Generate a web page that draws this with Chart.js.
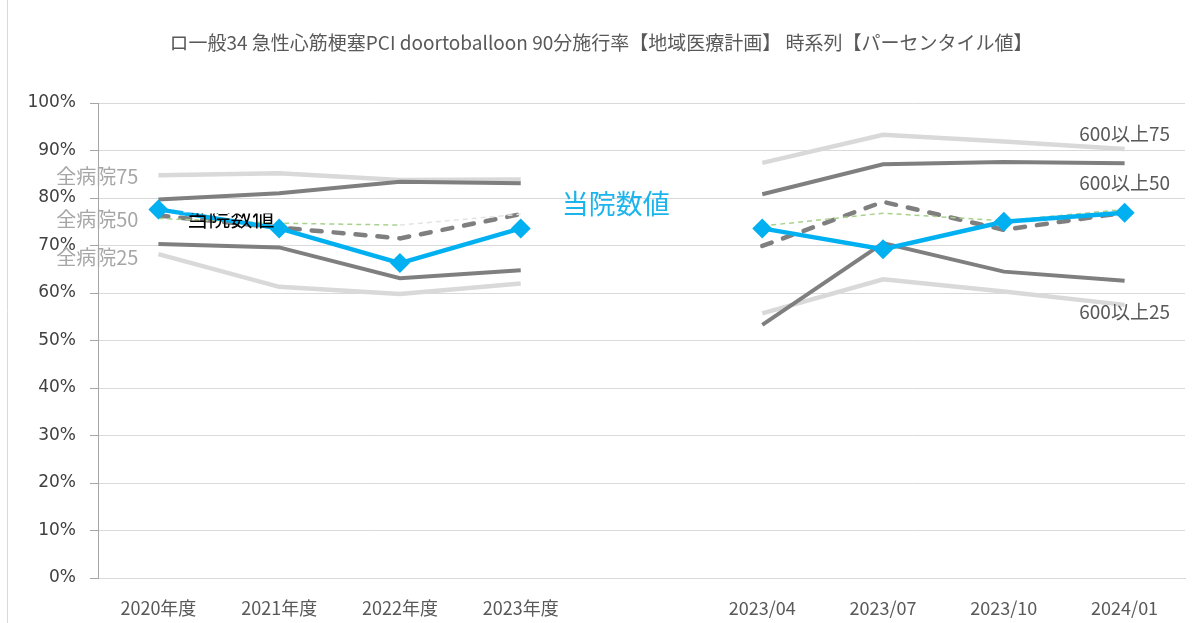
<!DOCTYPE html>
<html>
<head>
<meta charset="utf-8">
<script src="https://cdn.jsdelivr.net/npm/chart.js@4/dist/chart.umd.min.js"></script>
<style>
  body { margin: 0; background: #fff; }
  #wrap { width: 1198px; height: 623px; position: relative; }
</style>
</head>
<body>
<div id="wrap"><canvas id="chart" width="1198" height="623"></canvas></div>
<script>
// categories (one empty slot between fiscal years and quarters)
const categories = ['2020年度', '2021年度', '2022年度', '2023年度', '', '2023/04', '2023/07', '2023/10', '2024/01'];
const yTicks = [0, 10, 20, 30, 40, 50, 60, 70, 80, 90, 100];

// values in %
const zen25 = [68.2, 61.3, 59.8, 62.0, null, 55.7, 62.9, 60.3, 57.5];
const zen50 = [75.7, 74.7, 74.3, 76.6, null, 74.1, 76.8, 75.2, 77.6];
const zen75 = [84.8, 85.2, 83.8, 83.9, null, 87.4, 93.3, 91.9, 90.3];
const over25 = [70.3, 69.6, 63.1, 64.8, null, 53.3, 70.5, 64.5, 62.6];
const over50 = [76.3, 73.8, 71.5, 76.6, null, 69.9, 79.2, 73.3, 76.9];
const over75 = [79.7, 81.0, 83.4, 83.1, null, 80.8, 87.1, 87.6, 87.3];
const touin = [77.6, 73.6, 66.3, 73.6, null, 73.6, 69.2, 75.0, 76.9];

const title = 'ロ一般34 急性心筋梗塞PCI doortoballoon 90分施行率【地域医療計画】 時系列【パーセンタイル値】';
const JP = '"Noto Sans CJK JP", "Noto Sans", sans-serif';

const LIGHT = '#d9d9d9', DARK = '#7f7f7f', BLUE = '#00b0f0';

// text labels anchored to data points: [dataset, point, text, dx, dy, align, color, size]
const pointLabels = [
  [4, 0, '全病院75', -20, 1, 'right', '#a6a6a6', 20],
  [5, 0, '全病院50', -20, 1, 'right', '#a6a6a6', 20],
  [6, 0, '全病院25', -20, 3, 'right', '#a6a6a6', 20],
  [1, 8, '600以上75', 0, -30, 'center', '#595959', 19],
  [2, 8, '600以上50', 0, -30, 'center', '#595959', 19],
  [3, 8, '600以上25', 0, 31, 'center', '#595959', 19],
  [0, 3, '当院数値', 95, -25, 'center', '#1cb4ec', 27]
];

const labelPlugin = {
  id: 'labels',
  afterDatasetsDraw(chart) {
    const ctx = chart.ctx;
    ctx.save();
    // title
    ctx.font = '19px ' + JP;
    ctx.fillStyle = '#595959';
    ctx.textAlign = 'center';
    ctx.textBaseline = 'middle';
    ctx.fillText(title, 601, 43);

    // half-hidden black label of the first point
    const p0 = chart.getDatasetMeta(0).data[0];
    ctx.fillStyle = '#fff';
    ctx.fillRect(p0.x + 25, p0.y - 9, 104, 12);
    ctx.save();
    ctx.beginPath();
    ctx.rect(p0.x + 25, p0.y + 4, 110, 20);
    ctx.clip();
    ctx.font = '22px ' + JP;
    ctx.fillStyle = '#000';
    ctx.fillText('当院数値', p0.x + 72, p0.y + 8);
    ctx.restore();

    pointLabels.forEach(([ds, i, text, dx, dy, align, color, size]) => {
      const el = chart.getDatasetMeta(ds).data[i];
      ctx.font = size + 'px ' + JP;
      ctx.fillStyle = color;
      ctx.textAlign = align;
      ctx.textBaseline = 'middle';
      ctx.fillText(text, el.x + dx, el.y + dy);
    });

    // outer frame line on the left
    ctx.strokeStyle = LIGHT;
    ctx.lineWidth = 1;
    ctx.beginPath();
    ctx.moveTo(7.5, 0);
    ctx.lineTo(7.5, 623);
    ctx.stroke();
    ctx.restore();
  }
};

const solid = (label, data, color, width, order) => ({
  label, data, borderColor: color, borderWidth: width, pointRadius: 0,
  tension: 0, spanGaps: false, order
});

new Chart(document.getElementById('chart'), {
  type: 'line',
  data: {
    labels: categories,
    datasets: [
      {
        label: '当院数値', data: touin, borderColor: BLUE, backgroundColor: BLUE,
        borderWidth: 4.5, pointStyle: 'rectRot', pointRadius: 10, pointBorderWidth: 0,
        spanGaps: false, order: 0
      },
      solid('600以上75', over75, DARK, 4, 2),
      {
        label: '600以上50', data: over50, borderColor: DARK, borderWidth: 4.5,
        borderDash: [10, 12], borderCapStyle: 'round', pointRadius: 0, spanGaps: false, order: 2
      },
      solid('600以上25', over25, DARK, 4, 2),
      solid('全病院75', zen75, LIGHT, 4.5, 4),
      {
        label: '全病院50', data: zen50, borderColor: '#a9d18e', borderWidth: 1.5,
        borderDash: [5, 4], pointRadius: 0, spanGaps: false, order: 1,
        segment: { borderColor: c => c.p0DataIndex === 2 ? '#e3e3e3' : undefined }
      },
      solid('全病院25', zen25, LIGHT, 4.5, 4)
    ]
  },
  options: {
    responsive: false,
    animation: false,
    layout: { padding: { top: 103, right: 13, left: 0, bottom: 0 } },
    plugins: { legend: { display: false }, tooltip: { enabled: false } },
    scales: {
      x: {
        offset: true,
        grid: { display: false, drawTicks: false },
        border: { color: LIGHT },
        ticks: { font: { family: JP, size: 18 }, color: '#595959', padding: 19, maxRotation: 0, autoSkip: false },
        afterFit: s => { s.height = 45; }
      },
      y: {
        min: 0, max: 100,
        afterBuildTicks: s => { s.ticks = yTicks.map(v => ({ value: v })); },
        grid: { color: LIGHT, tickColor: '#a6a6a6', tickLength: 8 },
        border: { color: '#a6a6a6' },
        ticks: {
          font: { family: '"DejaVu Sans", sans-serif', size: 17 }, color: '#404040', padding: 14,
          callback: v => v + '%'
        },
        afterFit: s => { s.width = 98; }
      }
    }
  },
  plugins: [labelPlugin]
});
</script>
</body>
</html>
